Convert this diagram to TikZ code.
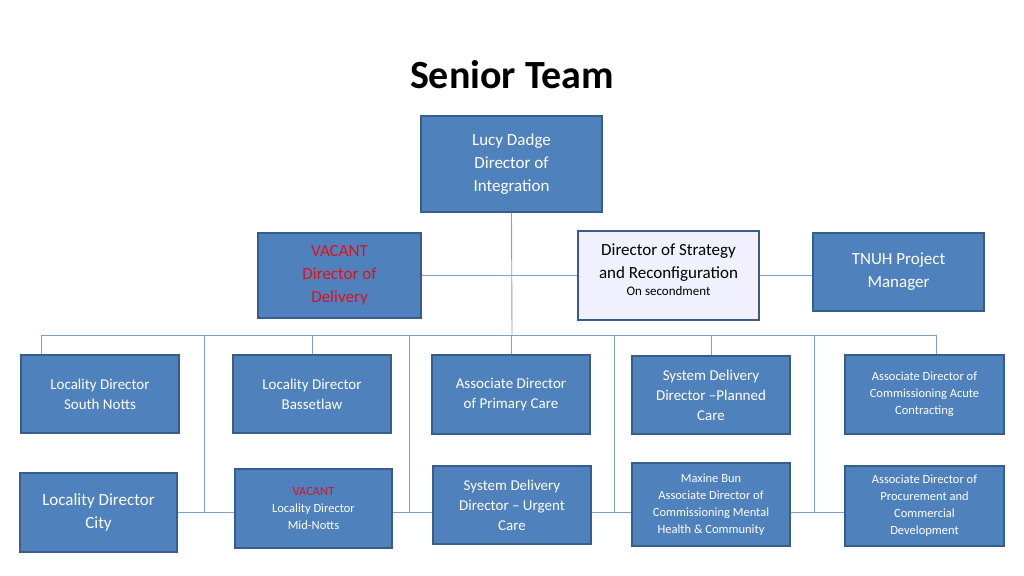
\documentclass[tikz,border=0pt]{standalone}
\usepackage{fontspec}
\setmainfont{Carlito}
\usetikzlibrary{patterns}
\definecolor{boxfill}{HTML}{4F81BD}
\definecolor{boxdraw}{HTML}{385D8A}
\definecolor{linec}{HTML}{7F9FCF}
\definecolor{vac}{HTML}{E0101A}
\begin{document}
\begin{tikzpicture}[x=1pt,y=-1pt,
  box/.style={draw=boxdraw,line width=1.5pt,fill=boxfill,text=white,align=center,inner sep=2pt,font=\fontsize{15}{20}\selectfont},
  big/.style={font=\fontsize{17}{23}\selectfont},
  small/.style={font=\fontsize{12.5}{17}\selectfont},
  conn/.style={draw=linec,line width=0.9pt}]
\useasboundingbox (0,0) rectangle (1024,575);
\node[font=\fontsize{40}{48}\selectfont\bfseries] (title) at (512,75) {Senior Team};
\node[box,big,minimum width=181,minimum height=96] (lucy) at (511.5,164) {Lucy Dadge\\Director of\\Integration};
\node[box,big,minimum width=163,minimum height=85] (vacdel) at (339.5,275.5) {\textcolor{vac}{VACANT}\\\textcolor{vac}{Director of}\\\textcolor{vac}{Delivery}};
\node[box,big,fill=blue!6,text=black,minimum width=181,minimum height=89,pattern color=gray!30] (strat) at (668.5,275.5) {};
\node[align=center,font=\fontsize{17}{23}\selectfont] at (668.5,270) {Director of Strategy\\and Reconfiguration\\[-6pt]{\fontsize{13}{16}\selectfont On secondment}};
\node[box,big,minimum width=171,minimum height=78] (tnuh) at (898.5,272) {TNUH Project\\Manager};

\node[box,minimum width=158,minimum height=78] (sn) at (100,394) {Locality Director\\South Notts};
\node[box,minimum width=158,minimum height=78] (bl) at (312,394) {Locality Director\\Bassetlaw};
\node[box,minimum width=158,minimum height=79] (pc) at (511,394.5) {Associate Director\\of Primary Care};
\node[box,minimum width=158,minimum height=78] (plan) at (711,395) {System Delivery\\Director –Planned\\Care};
\node[box,small,minimum width=159,minimum height=79] (acute) at (924.5,394.5) {Associate Director of\\Commissioning Acute\\Contracting};

\node[box,big,minimum width=157,minimum height=79] (city) at (98.5,512.5) {Locality Director\\City};
\node[box,small,minimum width=157,minimum height=79] (mid) at (313.5,508.5) {\textcolor{vac}{VACANT}\\Locality Director\\Mid-Notts};
\node[box,minimum width=158,minimum height=78] (urg) at (512,505) {System Delivery\\Director – Urgent\\Care};
\node[box,small,minimum width=158,minimum height=83] (max) at (711,504.5) {Maxine Bun\\Associate Director of\\Commissioning Mental\\Health \& Community};
\node[box,small,minimum width=159,minimum height=80] (proc) at (924.5,506) {Associate Director of\\Procurement and\\Commercial\\Development};

\coordinate (busL) at (41,335);
\coordinate (busR) at (936,335);
\coordinate (bc) at (512,335);
\draw[conn] (lucy.south) -- (bc);
\draw[conn] (vacdel.east |- 0,275) -- (strat.west |- 0,275);
\draw[conn] (strat.east |- 0,275) -- (tnuh.west |- 0,275);
\draw[conn] (sn.north -| busL) -- (busL) -- (busR) -- (acute.north -| busR);
\draw[conn] (bl.north) -- (bl.north |- busL);
\draw[conn] (pc.north) -- (pc.north |- busL);
\draw[conn] (plan.north) -- (plan.north |- busL);
\coordinate (v1) at (204,335); \coordinate (v2) at (409,335);
\coordinate (v3) at (614,335); \coordinate (v4) at (814,335);
\foreach \v in {v1,v2,v3,v4} \draw[conn] (\v) -- (\v |- 0,512);
\draw[conn] (city.east |- 0,512) -- (mid.west |- 0,512);
\draw[conn] (mid.east |- 0,512) -- (urg.west |- 0,512);
\draw[conn] (urg.east |- 0,512) -- (max.west |- 0,512);
\draw[conn] (max.east |- 0,512) -- (proc.west |- 0,512);
\end{tikzpicture}
\end{document}
